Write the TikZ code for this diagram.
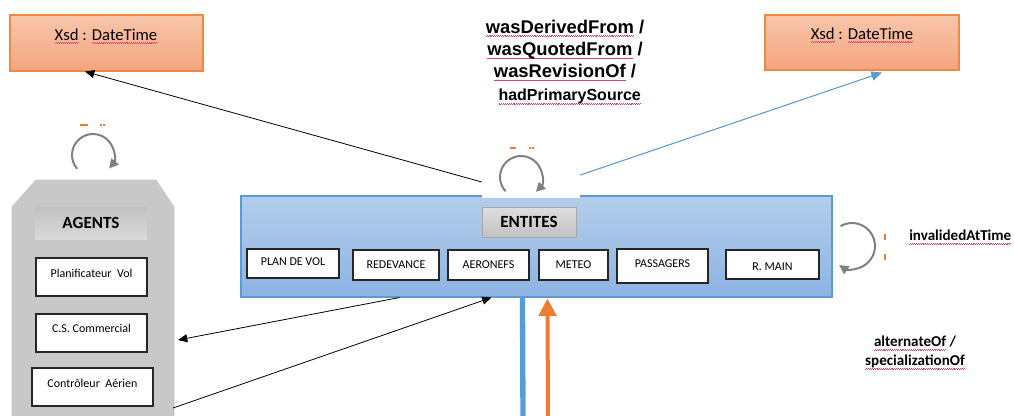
\documentclass[tikz,border=0pt]{standalone}
\usepackage{fontspec}
\setmainfont{Carlito}
\newfontfamily\arialfont{Liberation Sans}
\usetikzlibrary{arrows.meta,calc}
\definecolor{orTop}{HTML}{F8C6AA}
\definecolor{orBot}{HTML}{F4A47F}
\definecolor{orLine}{HTML}{F08A40}
\definecolor{blTop}{HTML}{B3CEEB}
\definecolor{blBot}{HTML}{8DB3E2}
\definecolor{blLine}{HTML}{5B9BD5}
\definecolor{loopgray}{HTML}{808080}
\definecolor{agentgray}{HTML}{C8C8C8}
\definecolor{accent}{HTML}{ED7D31}
\definecolor{spellred}{HTML}{E03C6E}
\newsavebox\wavebox
\newcommand\spellmark[1]{\leavevmode\setbox0\hbox{#1}\rlap{\lower2.6pt\hbox to \wd0{\xleaders\copy\wavebox\hfill}}\box0\relax}
\begin{document}
\sbox\wavebox{{\color{spellred}\rule{0.7pt}{0.35pt}\rule[0.45pt]{0.7pt}{0.35pt}}}
\begin{tikzpicture}[x=0.75pt,y=-0.75pt,
  xsdbox/.style={draw=orLine, line width=0.8pt, top color=orTop, bottom color=orBot, inner sep=0pt},
  xsdtext/.style={font=\fontsize{12.5pt}{14pt}\selectfont, inner sep=0pt},
  entbox/.style={draw=blLine, line width=0.8pt, top color=blTop, bottom color=blBot, inner sep=0pt},
  agenthead/.style={draw=none, top color=black!24, bottom color=black!15, inner sep=0pt, font=\bfseries\fontsize{12.8pt}{14pt}\selectfont},
  enthead/.style={draw=black!35, line width=0.6pt, top color=black!13, bottom color=black!24, inner sep=0pt, font=\bfseries\fontsize{12.8pt}{14pt}\selectfont},
  itembox/.style={draw=black!85, line width=1.5pt, fill=white, inner sep=0pt, font=\fontsize{9pt}{11pt}\selectfont},
  relbig/.style={font=\arialfont\bfseries\fontsize{13.8pt}{16.6pt}\selectfont, align=center, inner sep=0pt},
  relsmall/.style={font=\bfseries\fontsize{11.3pt}{14.3pt}\selectfont, align=center, inner sep=0pt},
  looparrow/.style={draw=loopgray, line width=1.5pt, -{Triangle[length=7pt,width=7pt]}},
  conn/.style={draw=black, line width=0.6pt, -{Triangle[length=7pt,width=6pt]}},
  dot/.style={fill=accent, inner sep=0pt, minimum width=#1}
]
\useasboundingbox (0,0) rectangle (1014,415);

% Xsd boxes
\node[xsdbox, minimum width={193*0.75pt}, minimum height={56*0.75pt}] (xsdL) at (106.5,43) {};
\node[xsdtext] (xsdLt) at (106,36) {\spellmark{Xsd} : \spellmark{DateTime}};
\node[xsdbox, minimum width={194*0.75pt}, minimum height={55*0.75pt}] (xsdR) at (862,42.5) {};
\node[xsdtext] (xsdRt) at (862,35) {\spellmark{Xsd} : \spellmark{DateTime}};

% relation labels
\node[relbig] (rel) at (565,62) {\spellmark{wasDerivedFrom} /\\\spellmark{wasQuotedFrom} /\\\spellmark{wasRevisionOf} /\\[1pt]\hspace*{7pt}{\fontsize{12pt}{14pt}\selectfont\spellmark{hadPrimarySource}}};
\node[relsmall, anchor=west] (inval) at (909,237) {\spellmark{invalidedAtTime}};
\node[relsmall] (alt) at (915,352.5) {\spellmark{alternateOf} /\\\spellmark{specializationOf}};

% agents
\path[fill=agentgray, draw=black!22, line width=0.6pt] (36,180) -- (156,180) -- (174,207) -- (174,420) -- (12,420) -- (12,207) -- cycle;
\node[agenthead, minimum width={112*0.75pt}, minimum height={32*0.75pt}] (agents) at (91,223) {AGENTS};
\node[itembox, minimum width={111*0.75pt}, minimum height={38*0.75pt}, text depth={6pt}] (plan) at (91.5,277) {Planificateur\ \ Vol};
\node[itembox, minimum width={111*0.75pt}, minimum height={38*0.75pt}, text depth={6.5pt}] (cs) at (91.5,333) {C.S. Commercial};
\node[itembox, minimum width={121*0.75pt}, minimum height={38*0.75pt}, text depth={6pt}] (ctrl) at (92.5,387) {Contrôleur\ \ Aérien};

% entities
\node[entbox, minimum width={591*0.75pt}, minimum height={101*0.75pt}] (ent) at (536.5,246.5) {};
\node[enthead, minimum width={94*0.75pt}, minimum height={30*0.75pt}] (entites) at (529,222) {ENTITES};
\node[itembox, minimum width={92*0.75pt}, minimum height={29*0.75pt}, text depth={3pt}] (pdv) at (293,263.5) {PLAN DE VOL};
\node[itembox, minimum width={86*0.75pt}, minimum height={30*0.75pt}] (red) at (396,265) {REDEVANCE};
\node[itembox, minimum width={81*0.75pt}, minimum height={30*0.75pt}] (aer) at (488.5,265) {AERONEFS};
\node[itembox, minimum width={69*0.75pt}, minimum height={30*0.75pt}] (met) at (573.5,265) {METEO};
\node[itembox, minimum width={91*0.75pt}, minimum height={34*0.75pt}, text depth={3.5pt}] (pas) at (662.5,266) {PASSAGERS};
\node[itembox, minimum width={93*0.75pt}, minimum height={29*0.75pt}, text height={9pt}] (rmain) at (772.5,264.5) {R. MAIN};

% white gap over entity top
\node[fill=white, inner sep=0pt, minimum width={98*0.75pt}, minimum height={24*0.75pt}] (gap) at (531,186) {};

% loops
\coordinate (cA) at (93,155);
\draw[looparrow] (cA) ++(139:21) arc[start angle=139, end angle=400, radius=21];
\coordinate (cE) at (521,177);
\draw[looparrow] (cE) ++(137:21) arc[start angle=137, end angle=405, radius=21];
\coordinate (cR) at (852,246);
\draw[looparrow] (cR) ++(-120:23) arc[start angle=-120, end angle=124, radius=23];

% small orange marks
\node[dot=4pt, minimum height=1.5pt] (m1) at (83,124.5) {};
\node[dot=2pt, minimum height=1.5pt] (m2) at (87,124.5) {};
\node[dot=2pt, minimum height=1.5pt] (m3) at (101,124.5) {};
\node[dot=2pt, minimum height=1.5pt] (m4) at (104,124.5) {};
\node[dot=4pt, minimum height=1.5pt] (m5) at (513,148) {};
\node[dot=2pt, minimum height=1.5pt] (m6) at (530,148) {};
\node[dot=2pt, minimum height=1.5pt] (m7) at (533,148) {};
\node[dot=1.5pt, minimum height=4pt] (m8) at (885,237) {};
\node[dot=1.5pt, minimum height=4pt] (m9) at (885,257) {};

% connectors
\draw[conn] ($(gap.west)+(0,-4)$) -- ($(xsdL.south)+(-21.5,0)$);
\draw[draw=blLine, line width=0.8pt, -{Triangle[length=8pt,width=7pt]}] ($(gap.east)+(0,-11)$) -- ($(xsdR.south)+(20,2)$);
\coordinate (tipA) at (178,340);
\coordinate (fromA) at (173,408);
\draw[conn] ($(ent.south west)+(159,0)$) -- (tipA);
\draw[conn] (fromA) -- ($(ent.south west)+(251,0)$);
\coordinate (bottomB) at (523,417);
\coordinate (bottomO) at (548,417);
\draw[draw=blLine, line width=4pt] ($(ent.south west)+(282,0)$) -- (bottomB);
\draw[draw=accent, line width=3pt, -{Triangle[length=13pt,width=13pt]}] (bottomO) -- ($(ent.south west)+(307,1)$);
\end{tikzpicture}
\end{document}
